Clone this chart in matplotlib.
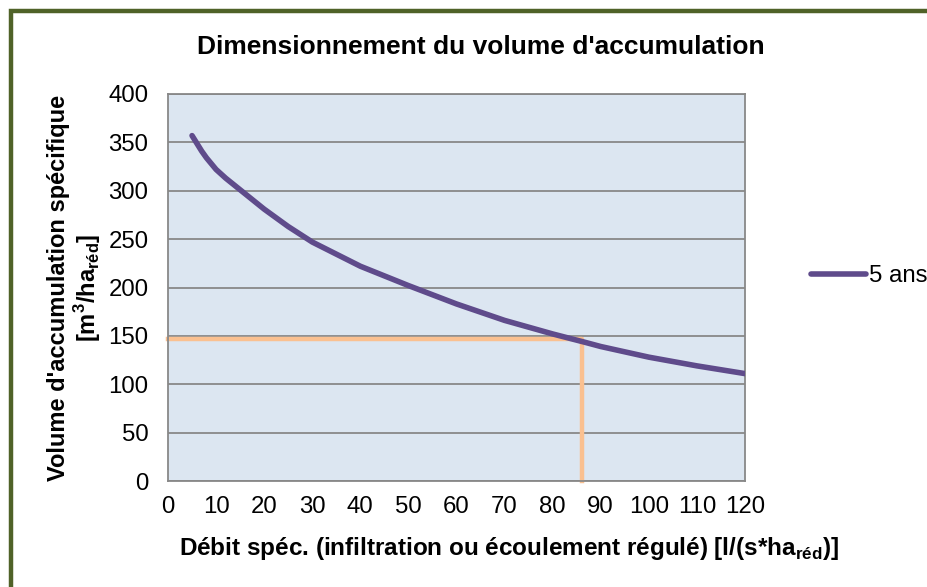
import matplotlib
matplotlib.use('Agg')
import matplotlib.pyplot as plt
from matplotlib.patches import Rectangle

# Data
debit = [5, 6, 7, 8, 10, 12, 15, 20, 25, 30, 40, 50, 60, 70, 80, 87, 90, 100, 110, 120]
volume = [357, 349, 341, 334, 322, 313, 301, 281, 263, 247, 222, 202, 183, 166, 152, 143, 139, 128, 119, 111]
point_x = 86
point_y = 147
x_ticks = list(range(0, 121, 10))
y_ticks = list(range(0, 401, 50))

plt.rcParams['font.family'] = ['Liberation Sans', 'DejaVu Sans']
plt.rcParams['mathtext.fontset'] = 'custom'
plt.rcParams['mathtext.rm'] = 'Liberation Sans'
plt.rcParams['mathtext.bf'] = 'Liberation Sans:bold'

W, H = 928, 587
fig = plt.figure(figsize=(W/100, H/100), dpi=100)
ax = fig.add_axes([168/W, 1 - 481/H, (745-168)/W, (481-94)/H])

# olive frame, clipped on right and bottom like the original
fig.patches.append(Rectangle((11.5/W, -0.1), 1.2, 1.1 - 10.5/H, transform=fig.transFigure,
                             fill=False, edgecolor='#4f6228', linewidth=3.2, clip_on=False))

ax.set_facecolor('#dce6f1')
ax.set_xlim(0, 120)
ax.set_ylim(0, 400)
ax.set_xticks(x_ticks)
ax.set_yticks(y_ticks)
ax.yaxis.grid(True, color='#888888', linewidth=1.3)
ax.set_axisbelow(True)
for s in ax.spines.values():
    s.set_color('#888888')
    s.set_linewidth(1.3)
ax.tick_params(length=0, labelsize=17.3)
ax.tick_params(axis='x', pad=11)
ax.tick_params(axis='y', pad=14)

ax.plot(debit, volume, color='#5f4b8b', linewidth=4, solid_capstyle='round', label='5 ans', zorder=3)
ax.plot([0, point_x, point_x], [point_y, point_y, 0], color='#fac090', linewidth=3.2, zorder=2,
        clip_on=False)

fig.text(481/W, 1 - 47/H, "Dimensionnement du volume d'accumulation", fontsize=19,
         fontweight='bold', ha='center', va='center')
fig.text(509/W, 1 - 549/H,
         "Débit spéc. (infiltration ou écoulement régulé) [l/(s*ha$_{\\mathbf{réd}}$)]",
         fontsize=17.5, fontweight='bold', ha='center', va='center')
fig.text(75/W, 1 - 288/H,
         "Volume d'accumulation spécifique\n[m$^{\\mathbf{3}}$/ha$_{\\mathbf{réd}}$]",
         fontsize=17, fontweight='bold', ha='center', va='center', rotation=90,
         linespacing=1.05, multialignment='center')

leg = ax.legend(loc='center left', bbox_to_anchor=(811/W, 1 - 276/H),
                bbox_transform=fig.transFigure, frameon=False, fontsize=17.3,
                handlelength=2.3, handletextpad=0.1, borderaxespad=0.0, borderpad=0.0)

fig.savefig('out.png', dpi=100)
